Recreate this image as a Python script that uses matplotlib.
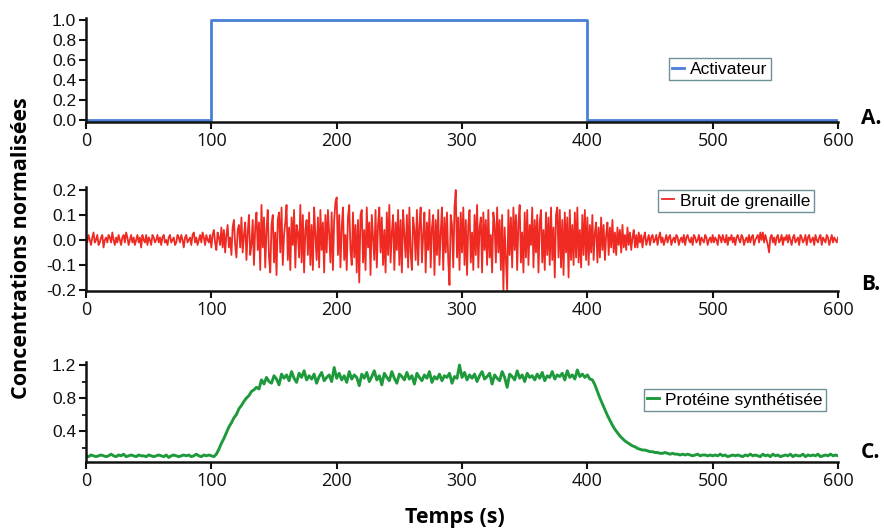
import matplotlib
matplotlib.use("Agg")
import matplotlib.pyplot as plt
from matplotlib.ticker import MultipleLocator
import numpy as np

# activator: step on between 100 s and 400 s
ACT_T = [0, 100, 100, 400, 400, 600]
ACT_Y = [0.0, 0.0, 1.0, 1.0, 0.0, 0.0]

# shot noise, sampled every 1 s (0..600)
T_NOISE = np.arange(0, 601, 1)
NOISE = [
    0.01, -0.01, 0.02, 0.00, -0.02, 0.01, 0.03, -0.01, 0.00, 0.02,
    -0.02, -0.01, 0.01, 0.02, -0.03, 0.00, 0.01, -0.01, 0.02, 0.01,
    -0.01, 0.03, 0.00, -0.02, 0.01, -0.01, 0.02, 0.00, -0.02, 0.01,
    0.02, -0.01, 0.03, 0.01, -0.02, 0.00, 0.02, -0.01, 0.01, -0.02,
    0.00, 0.02, -0.01, 0.01, -0.03, 0.02, 0.00, -0.01, 0.02, -0.02,
    0.01, 0.00, -0.02, 0.02, 0.01, -0.01, 0.00, 0.02, -0.01, 0.01,
    -0.02, 0.01, 0.02, -0.01, 0.00, -0.02, 0.01, 0.02, -0.01, 0.00,
    0.01, -0.02, -0.01, 0.02, 0.01, -0.01, 0.02, 0.00, -0.03, 0.01,
    0.02, -0.01, 0.00, 0.01, -0.02, 0.02, 0.03, -0.01, 0.01, -0.02,
    0.00, 0.02, -0.01, 0.03, 0.01, -0.02, 0.02, 0.00, -0.01, 0.02,
    -0.03, 0.02, 0.04, -0.01, -0.04, 0.03, 0.01, -0.02, 0.05, -0.03,
    0.04, -0.05, 0.02, 0.06, -0.03, 0.01, -0.06, 0.05, 0.08, -0.02,
    -0.07, 0.04, 0.06, -0.03, 0.09, -0.05, 0.02, 0.07, -0.08, 0.03,
    0.10, -0.06, -0.02, 0.08, -0.10, 0.05, 0.11, -0.04, 0.07, -0.12,
    0.14, -0.03, 0.09, -0.11, 0.04, 0.12, -0.07, -0.13, 0.06, 0.10,
    -0.09, 0.03, -0.14, 0.08, 0.11, -0.05, 0.13, -0.10, 0.02, 0.07,
    0.14, -0.08, 0.05, -0.12, 0.09, -0.02, 0.12, -0.11, 0.06, 0.03,
    -0.07, 0.14, -0.09, 0.10, -0.13, 0.04, 0.08, -0.06, 0.11, -0.10,
    0.06, -0.12, 0.13, 0.02, -0.08, 0.09, -0.11, 0.12, -0.04, 0.07,
    -0.13, 0.10, -0.05, 0.12, 0.03, -0.09, 0.11, -0.12, 0.08, 0.15,
    0.17, -0.06, 0.10, -0.11, 0.05, 0.13, -0.08, 0.02, -0.12, 0.09,
    0.14, -0.04, -0.10, 0.11, -0.07, 0.06, -0.13, 0.08, -0.17, 0.10,
    0.12, -0.09, 0.04, -0.12, 0.13, -0.03, 0.07, -0.14, 0.10, 0.01,
    -0.08, 0.12, -0.11, 0.06, 0.13, -0.05, 0.09, -0.10, 0.04, -0.13,
    0.11, -0.06, 0.14, -0.09, 0.03, 0.10, -0.12, 0.07, -0.04, 0.12,
    -0.10, 0.08, -0.13, 0.12, 0.02, -0.07, 0.10, -0.11, 0.13, -0.05,
    -0.12, 0.09, 0.04, -0.08, 0.12, -0.10, 0.06, 0.13, -0.09, 0.02,
    0.11, -0.13, 0.07, -0.04, 0.12, -0.11, 0.05, 0.10, -0.14, 0.08,
    -0.06, 0.12, -0.10, 0.03, 0.13, -0.12, 0.09, -0.05, 0.11, -0.08,
    -0.18, 0.10, 0.06, -0.11, 0.13, 0.20, -0.07, 0.09, -0.12, 0.11,
    -0.05, 0.13, -0.10, 0.08, -0.14, 0.06, 0.12, -0.09, 0.03, -0.12,
    0.10, -0.06, 0.14, -0.11, 0.05, 0.09, -0.13, 0.11, -0.04, 0.08,
    -0.10, 0.12, -0.07, 0.02, -0.13, 0.11, 0.06, -0.09, 0.13, -0.05,
    0.08, -0.12, 0.10, -0.20, 0.05, -0.08, -0.20, 0.12, -0.06, 0.09,
    -0.11, 0.13, -0.04, 0.10, -0.12, 0.07, 0.14, -0.09, 0.03, -0.13,
    0.11, -0.07, 0.12, -0.10, 0.06, -0.02, 0.13, -0.11, 0.08, -0.05,
    0.10, -0.13, 0.07, 0.12, -0.09, 0.04, -0.12, 0.11, -0.06, 0.09,
    -0.10, 0.13, -0.08, 0.05, -0.15, 0.10, 0.13, -0.07, 0.12, -0.11,
    0.08, -0.14, 0.11, -0.05, 0.09, -0.15, 0.12, -0.08, 0.06, -0.10,
    0.11, -0.07, 0.13, -0.09, 0.04, -0.11, 0.10, -0.06, 0.12, -0.08,
    0.09, -0.10, 0.06, -0.05, 0.10, -0.08, 0.03, 0.07, -0.09, 0.05,
    -0.07, 0.09, -0.04, 0.06, -0.08, 0.02, 0.07, -0.06, 0.05, -0.03,
    0.08, -0.05, 0.03, -0.06, 0.05, -0.02, 0.04, -0.05, 0.06, -0.03,
    0.02, -0.04, 0.05, -0.02, 0.03, -0.04, 0.01, 0.04, -0.03, 0.02,
    -0.03, 0.03, -0.01, 0.02, -0.03, 0.01, 0.03, -0.02, 0.00, 0.02,
    -0.02, 0.01, 0.02, -0.01, 0.00, 0.02, -0.02, 0.01, 0.03, -0.01,
    0.01, -0.02, 0.00, 0.02, -0.01, 0.01, 0.02, -0.02, 0.00, 0.01,
    -0.01, 0.02, 0.01, -0.02, 0.00, 0.01, -0.01, 0.02, -0.02, 0.01,
    0.02, 0.00, -0.01, 0.01, -0.02, 0.02, 0.01, -0.01, 0.00, 0.02,
    -0.02, 0.01, 0.00, -0.01, 0.02, 0.01, -0.02, 0.00, 0.01, -0.01,
    0.02, -0.01, 0.01, 0.00, -0.02, 0.02, 0.01, -0.01, 0.02, 0.00,
    -0.01, 0.02, -0.02, 0.01, 0.00, 0.02, -0.01, 0.01, -0.02, 0.01,
    0.02, 0.00, -0.01, 0.02, 0.01, -0.02, 0.00, 0.01, -0.01, 0.02,
    -0.01, 0.01, 0.02, -0.02, 0.00, 0.01, 0.02, -0.01, 0.03, 0.00,
    0.03, -0.01, 0.02, 0.00, -0.02, -0.05, 0.01, 0.02, -0.01, 0.01,
    -0.02, 0.01, 0.02, -0.01, 0.00, 0.02, -0.02, 0.01, 0.00, 0.02,
    -0.01, 0.02, 0.00, -0.02, 0.01, 0.02, -0.01, 0.00, 0.01, -0.02,
    0.02, 0.01, -0.01, 0.00, 0.02, -0.02, 0.01, 0.02, -0.01, 0.00,
    0.01, -0.02, 0.02, 0.00, -0.01, 0.01, 0.02, -0.02, 0.01, 0.00,
    -0.01, 0.02, 0.01, -0.02, 0.00, 0.02, -0.01, 0.01, 0.00, -0.01,
    0.01,
]

# synthesised protein, sampled every 2 s (0..600)
T_PROT = np.arange(0, 601, 2)
PROTEIN = [
    0.10, 0.09, 0.11, 0.10, 0.09, 0.10, 0.11, 0.10, 0.09, 0.10,
    0.12, 0.10, 0.09, 0.11, 0.10, 0.12, 0.09, 0.10, 0.11, 0.10,
    0.09, 0.11, 0.10, 0.10, 0.09, 0.11, 0.10, 0.09, 0.10, 0.11,
    0.10, 0.09, 0.11, 0.08, 0.10, 0.11, 0.10, 0.09, 0.10, 0.11,
    0.10, 0.11, 0.09, 0.10, 0.12, 0.10, 0.09, 0.11, 0.10, 0.11,
    0.10, 0.09, 0.12, 0.18, 0.25, 0.31, 0.38, 0.45, 0.50, 0.56,
    0.60, 0.67, 0.71, 0.76, 0.80, 0.83, 0.88, 0.90, 0.93, 0.91,
    1.02, 0.97, 1.05, 1.00, 0.98, 1.07, 1.03, 0.96, 1.09, 1.04,
    1.08, 1.01, 1.12, 1.04, 0.99, 1.10, 1.05, 1.13, 1.02, 1.07,
    1.03, 1.09, 0.98, 1.06, 1.11, 1.01, 1.05, 1.08, 1.00, 1.17,
    1.04, 1.10, 1.02, 1.07, 0.99, 1.12, 1.03, 1.08, 1.05, 0.95,
    1.09, 1.04, 1.11, 1.00, 1.06, 1.13, 1.02, 1.07, 0.96, 1.10,
    1.05, 1.01, 1.12, 1.04, 0.98, 1.09, 1.06, 1.02, 1.11, 1.03,
    1.07, 0.97, 1.10, 1.05, 1.01, 1.08, 1.04, 1.12, 0.99, 1.06,
    1.03, 1.09, 1.01, 1.07, 1.05, 1.10, 0.98, 1.06, 1.04, 1.20,
    1.05, 1.11, 1.02, 1.08, 1.04, 1.09, 1.00, 1.07, 1.12, 1.03,
    1.06, 1.10, 0.97, 1.08, 1.04, 1.01, 1.12, 1.05, 0.93, 1.09,
    1.06, 1.02, 1.13, 1.04, 1.08, 1.00, 1.10, 1.05, 1.07, 1.02,
    1.09, 1.04, 1.11, 1.01, 1.07, 1.05, 1.12, 1.03, 1.08, 1.06,
    1.10, 1.02, 1.13, 1.05, 1.08, 1.03, 1.14, 1.06, 1.09, 1.05,
    1.08, 1.03, 1.02, 0.96, 0.88, 0.80, 0.73, 0.66, 0.59, 0.53,
    0.47, 0.42, 0.38, 0.34, 0.31, 0.28, 0.26, 0.24, 0.22, 0.21,
    0.19, 0.18, 0.17, 0.17, 0.16, 0.15, 0.15, 0.14, 0.14, 0.13,
    0.13, 0.14, 0.13, 0.12, 0.13, 0.12, 0.12, 0.11, 0.12, 0.11,
    0.12, 0.11, 0.10, 0.11, 0.12, 0.10, 0.11, 0.11, 0.10, 0.11,
    0.10, 0.11, 0.10, 0.12, 0.10, 0.11, 0.09, 0.10, 0.11, 0.10,
    0.11, 0.10, 0.09, 0.11, 0.10, 0.12, 0.10, 0.11, 0.10, 0.09,
    0.12, 0.10, 0.11, 0.09, 0.12, 0.10, 0.11, 0.09, 0.10, 0.11,
    0.10, 0.12, 0.09, 0.11, 0.10, 0.10, 0.12, 0.09, 0.11, 0.10,
    0.11, 0.10, 0.12, 0.09, 0.10, 0.11, 0.10, 0.12, 0.10, 0.11,
    0.10,
]

X_TICKS = [0, 100, 200, 300, 400, 500, 600]
Y_TICKS_A = [0.0, 0.2, 0.4, 0.6, 0.8, 1.0]
Y_TICKS_B = [-0.2, -0.1, 0.0, 0.1, 0.2]
Y_TICKS_C = [0.4, 0.8, 1.2]

TICK_FONT = "Liberation Sans"
X_FONT = "Open Sans"

fig = plt.figure(figsize=(8.84, 5.30), dpi=100)
L, W = 0.0973, 0.8507
ax_a = fig.add_axes([L, 0.7698, W, 0.1962])
ax_b = fig.add_axes([L, 0.4505, W, 0.1958])
ax_c = fig.add_axes([L, 0.1275, W, 0.1900])


def style(ax, yticks, ylim, fmt):
    ax.set_xlim(0, 600)
    ax.set_ylim(*ylim)
    ax.set_xticks(X_TICKS)
    ax.set_xticklabels([str(v) for v in X_TICKS], fontsize=13, family=X_FONT)
    ax.set_yticks(yticks)
    ax.set_yticklabels([fmt.format(v) for v in yticks], fontsize=12.5, family=TICK_FONT)
    for s in ("top", "right"):
        ax.spines[s].set_visible(False)
    for s in ("left", "bottom"):
        ax.spines[s].set_linewidth(1.8)
        ax.spines[s].set_color("#111111")
    ax.tick_params(axis="both", which="major", direction="out", length=5, width=1.5, pad=2, colors="#111111")
    ax.tick_params(axis="y", which="minor", direction="out", length=3, width=1.2)


style(ax_a, Y_TICKS_A, (-0.02, 1.02), "{:.1f}")
style(ax_b, Y_TICKS_B, (-0.205, 0.21), "{:.1f}")
style(ax_c, Y_TICKS_C, (0.02, 1.24), "{:.1f}")
ax_c.yaxis.set_minor_locator(MultipleLocator(0.2))

ax_a.plot(ACT_T, ACT_Y, color="#4a7fd6", lw=2.0, label="Activateur")
ax_b.plot(T_NOISE, NOISE, color="#ee2a22", lw=1.3, label="Bruit de grenaille")
ax_c.plot(T_PROT, PROTEIN, color="#1e9a3c", lw=2.1, label="Protéine synthétisée")

legend_pos = [(ax_a, (0.8145, 0.8698)), (ax_b, (0.8326, 0.6208)), (ax_c, (0.8314, 0.2453))]
for ax, pos in legend_pos:
    leg = ax.legend(loc="center", bbox_to_anchor=pos, bbox_transform=fig.transFigure,
                    fancybox=False, framealpha=1, edgecolor="#6f8f99", handlelength=0.7,
                    handletextpad=0.35, borderpad=0.2, borderaxespad=0,
                    prop={"family": TICK_FONT, "size": 12.5})
    leg.get_frame().set_linewidth(1.0)

for lab, y in (("A.", 118), ("B.", 285), ("C.", 452)):
    fig.text(871 / 884, 1 - y / 530, lab, fontsize=15, fontweight="bold",
             family=X_FONT, ha="center", va="center")

fig.text(22 / 884, 1 - 248 / 530, "Concentrations normalisées", rotation=90,
         fontsize=15.5, fontweight="bold", family=X_FONT, ha="center", va="center")
fig.text(455 / 884, 1 - 517 / 530, "Temps (s)", fontsize=15.5, fontweight="bold",
         family=X_FONT, ha="center", va="center")

fig.savefig("out.png", dpi=100)
